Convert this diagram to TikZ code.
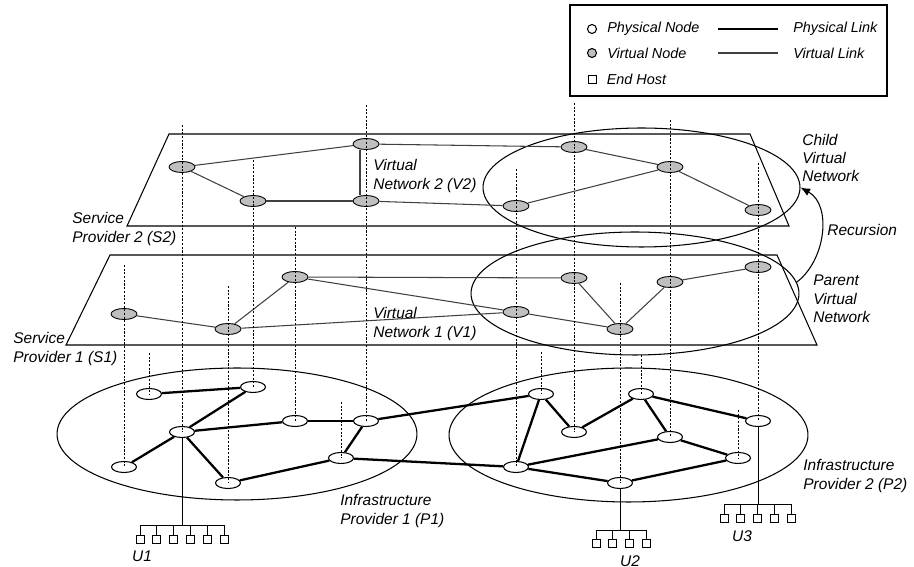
\documentclass[tikz,border=0pt]{standalone}
\usepackage{fontspec}
\setmainfont{Liberation Sans}
\usetikzlibrary{positioning,arrows.meta,shapes.geometric}

\begin{document}
\begin{tikzpicture}[x=0.02cm, y=-0.02cm, >=latex,
    font=\fontsize{8.8}{10.4}\selectfont\itshape,
    vnode/.style={draw, ellipse, fill=black!25, line width=0.5pt, inner sep=0pt, minimum width=0.52cm, minimum height=0.22cm},
    pnode/.style={draw, ellipse, fill=white, line width=0.6pt, inner sep=0pt, minimum width=0.5cm, minimum height=0.22cm},
    host/.style={draw, rectangle, fill=white, line width=0.5pt, inner sep=0pt, minimum size=0.16cm},
    region/.style={draw, ellipse, inner sep=0pt, line width=0.6pt},
    vlink/.style={draw=black!75, line width=0.6pt},
    plink/.style={line width=1.3pt},
    hlink/.style={line width=0.5pt},
    plane/.style={line width=0.6pt},
    mapline/.style={line width=0.5pt, dash pattern=on 1.2pt off 0.9pt},
    lbl/.style={align=left, anchor=west, inner sep=0pt},
    legendfont/.style={font=\fontsize{8.2}{10}\selectfont\itshape}]
	\useasboundingbox (0,0) rectangle (914,567);

	% Legend
	\draw[plane] (570,5) rectangle (887,96);
	\node[draw, circle, fill=white, line width=0.6pt, inner sep=0pt, minimum size=0.18cm] (lgpnode) at (592,29) {};
	\node[draw, circle, fill=black!25, line width=0.6pt, inner sep=0pt, minimum size=0.18cm] (lgvnode) at (592,53) {};
	\node[host] (lghost) at (592,79) {};
	\node[lbl, legendfont, right=2mm of lgpnode] (lgpnodetxt) {Physical Node};
	\node[lbl, legendfont, right=2mm of lgvnode] (lgvnodetxt) {Virtual Node};
	\node[lbl, legendfont, right=2mm of lghost] (lghosttxt) {End Host};
	\draw[plink] (718,29) -- (778,29);
	\draw[vlink] (718,53) -- (778,53);
	\node[lbl, legendfont] (lgplinktxt) at (793,29) {Physical Link};
	\node[lbl, legendfont] (lgvlinktxt) at (793,53) {Virtual Link};

	% Service provider planes
	\draw[plane] (169,134) -- (750,134) -- (789,226) -- (127,226) -- cycle;
	\draw[plane] (110,255) -- (777,255) -- (817,345) -- (66,345) -- cycle;

	% Regions
	\node[region, minimum width=6.34cm, minimum height=2.38cm] (child) at (641.5,187.5) {};
	\node[region, minimum width=6.56cm, minimum height=2.46cm] (parent) at (635,293.5) {};
	\node[region, minimum width=7.2cm, minimum height=2.64cm] (p1) at (237,434) {};
	\node[region, minimum width=7.18cm, minimum height=2.68cm] (p2) at (628.5,435) {};

	% Virtual network 2
	\node[vnode] (v2a) at (182,167) {};
	\node[vnode] (v2b) at (253,201) {};
	\node[vnode] (v2c) at (366,144) {};
	\node[vnode] (v2d) at (366,201) {};
	\node[vnode] (v2e) at (574,147) {};
	\node[vnode] (v2f) at (670,167) {};
	\node[vnode] (v2g) at (516,206) {};
	\node[vnode] (v2h) at (758,210) {};

	% Virtual network 1
	\node[vnode] (v1a) at (124,314) {};
	\node[vnode] (v1b) at (228,329) {};
	\node[vnode] (v1c) at (295,277) {};
	\node[vnode] (v1d) at (574,278) {};
	\node[vnode] (v1e) at (516,312) {};
	\node[vnode] (v1f) at (620,329) {};
	\node[vnode] (v1g) at (670,282) {};
	\node[vnode] (v1h) at (758,267) {};

	% Physical nodes of P1 and P2
	\node[pnode] (p1a) at (124,467) {};
	\node[pnode] (p1b) at (149,394) {};
	\node[pnode] (p1c) at (182,432) {};
	\node[pnode] (p1d) at (228,483) {};
	\node[pnode] (p1e) at (253,387) {};
	\node[pnode] (p1f) at (295,421) {};
	\node[pnode] (p1g) at (341,458) {};
	\node[pnode] (p1h) at (366,421) {};
	\node[pnode] (p2a) at (516,467) {};
	\node[pnode] (p2b) at (541,394) {};
	\node[pnode] (p2c) at (574,432) {};
	\node[pnode] (p2d) at (620,483) {};
	\node[pnode] (p2e) at (641,394) {};
	\node[pnode] (p2f) at (670,437) {};
	\node[pnode] (p2g) at (738,458) {};
	\node[pnode] (p2h) at (758,421) {};

	% Virtual links
	\draw[vlink] (v2a) -- (v2c);
	\draw[vlink] (v2a) -- (v2b);
	\draw[vlink] (v2b) -- (v2d);
	\draw[vlink] ([xshift=-0.12cm]v2c.south) -- ([xshift=-0.12cm]v2d.north);
	\draw[vlink] (v2c) -- (v2e);
	\draw[vlink] (v2d) -- (v2g);
	\draw[vlink] (v2e) -- (v2f);
	\draw[vlink] (v2g) -- (v2f);
	\draw[vlink] (v2f) -- (v2h);
	\draw[vlink] (v1a) -- (v1b);
	\draw[vlink] (v1b) -- (v1c);
	\draw[vlink] (v1b) -- (v1e);
	\draw[vlink] (v1c) -- (v1d);
	\draw[vlink] (v1c) -- (v1e);
	\draw[vlink] (v1e) -- (v1f);
	\draw[vlink] (v1d) -- (v1f);
	\draw[vlink] (v1f) -- (v1g);
	\draw[vlink] (v1g) -- (v1h);

	% Physical links
	\draw[plink] (p1b) -- (p1e);
	\draw[plink] (p1e) -- (p1c);
	\draw[plink] (p1c) -- (p1a);
	\draw[plink] (p1c) -- (p1f);
	\draw[plink] (p1c) -- (p1d);
	\draw[plink] (p1d) -- (p1g);
	\draw[plink] (p1f) -- (p1h);
	\draw[plink] (p1h) -- (p1g);
	\draw[plink] (p1h) -- (p2b);
	\draw[plink] (p1g) -- (p2a);
	\draw[plink] (p2b) -- (p2a);
	\draw[plink] (p2b) -- (p2c);
	\draw[plink] (p2c) -- (p2e);
	\draw[plink] (p2e) -- (p2h);
	\draw[plink] (p2e) -- (p2f);
	\draw[plink] (p2f) -- (p2a);
	\draw[plink] (p2f) -- (p2g);
	\draw[plink] (p2g) -- (p2d);
	\draw[plink] (p2d) -- (p2a);

	% Mapping of virtual onto physical nodes
	\foreach \p/\t in {p1c/125, p1h/105, p2c/103, p2f/120, p2h/163, p1e/160, p2a/169,
	                   p1f/227, p1a/265, p1d/286, p2d/283, p1b/353, p1g/402, p2b/352, p2e/355, p2g/410} {
		\coordinate (\p top) at (\p |- 0,\t);
		\draw[mapline] (\p top) -- (\p.center);
	}

	% Recursion
	\draw[-{Latex[length=5.5pt,width=4.5pt]}, line width=0.6pt] (parent.4) .. controls (826,260) and (832,205) .. (child.east);

	% End hosts
	\coordinate (u1bus) at (182,525);
	\coordinate (u2bus) at (620,530);
	\coordinate (u3bus) at (758,504);
	\foreach \i in {1,...,6} \node[host] (u1h\i) at ({123.2+16.8*\i},539) {};
	\foreach \i in {1,...,4} \node[host] (u2h\i) at ({579.3+16.7*\i},543.5) {};
	\foreach \i in {1,...,5} \node[host] (u3h\i) at ({707.25+16.75*\i},518) {};
	\draw[hlink] (p1c) -- (u1bus);
	\draw[hlink] (p2d) -- (u2bus);
	\draw[hlink] (p2h) -- (u3bus);
	\draw[hlink] (u1h1 |- u1bus) -- (u1h6 |- u1bus);
	\draw[hlink] (u2h1 |- u2bus) -- (u2h4 |- u2bus);
	\draw[hlink] (u3h1 |- u3bus) -- (u3h5 |- u3bus);
	\foreach \i in {1,...,6} \draw[hlink] (u1h\i |- u1bus) -- (u1h\i);
	\foreach \i in {1,...,4} \draw[hlink] (u2h\i |- u2bus) -- (u2h\i);
	\foreach \i in {1,...,5} \draw[hlink] (u3h\i |- u3bus) -- (u3h\i);

	% Labels
	\node[lbl] (s2lbl) at (72,229) {Service\\Provider 2 (S2)};
	\node[lbl] (s1lbl) at (13,349) {Service\\Provider 1 (S1)};
	\node[lbl] (v2lbl) at (373,176) {Virtual\\Network 2 (V2)};
	\node[lbl] (v1lbl) at (373,324) {Virtual\\Network 1 (V1)};
	\node[lbl] (childlbl) at (802,158) {Child\\Virtual\\Network};
	\node[lbl] (reclbl) at (827,230) {Recursion};
	\node[lbl] (parentlbl) at (813,299) {Parent\\Virtual\\Network};
	\node[lbl] (p1lbl) at (340,511) {Infrastructure\\Provider 1 (P1)};
	\node[lbl] (p2lbl) at (803,476) {Infrastructure\\Provider 2 (P2)};
	\node (u1lbl) at (142,556) {U1};
	\node (u2lbl) at (630,561) {U2};
	\node (u3lbl) at (742,536) {U3};
\end{tikzpicture}
\end{document}
